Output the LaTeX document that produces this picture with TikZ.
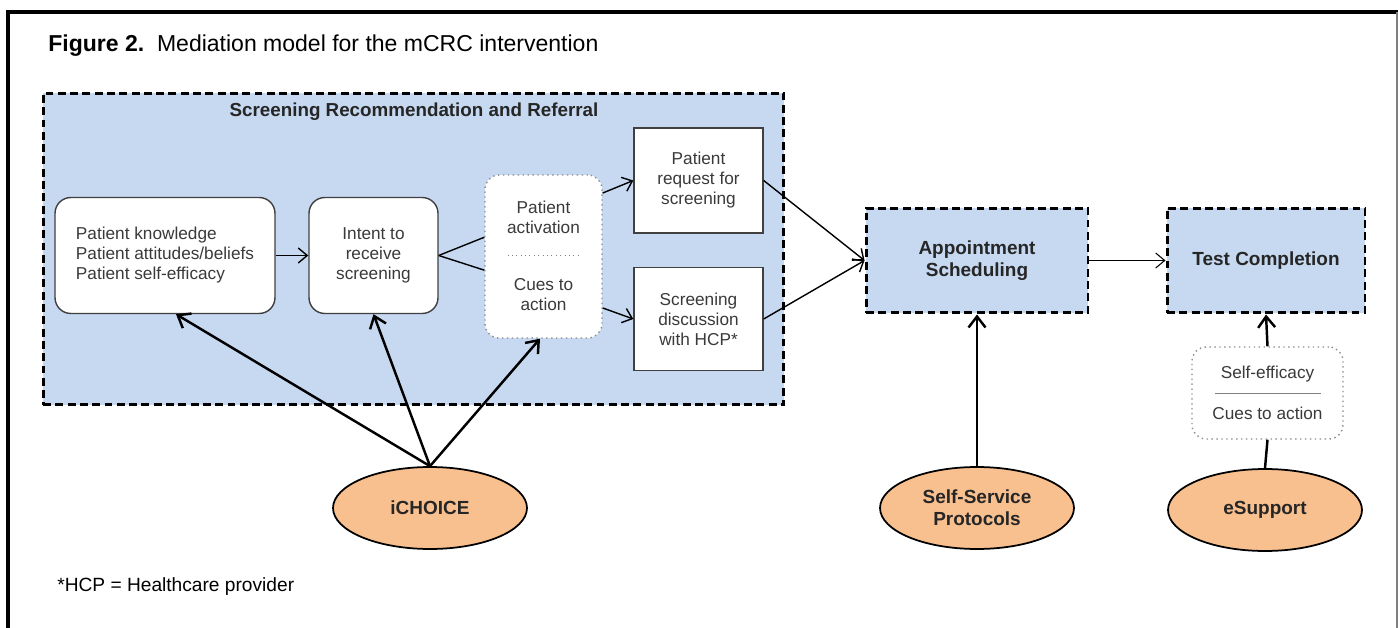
\documentclass[tikz,border=0pt]{standalone}
\usepackage{fontspec}
\setmainfont{Liberation Sans}
\usetikzlibrary{arrows.meta,positioning,backgrounds,calc,shapes.geometric}
\definecolor{grpblue}{HTML}{C6D9F1}
\definecolor{ovalorange}{HTML}{F9C08F}
\definecolor{txtgray}{HTML}{3A3A3A}
\tikzset{
  box/.style={draw=black!75, line width=0.8pt, fill=white, align=center, text=txtgray, inner sep=2pt, font=\fontsize{9.8}{11.4}\selectfont},
  rbox/.style={box, rounded corners=9pt},
  dbox/.style={box, draw=black!45, dotted, rounded corners=8pt},
  stage/.style={draw, line width=1.7pt, dash pattern=on 4.5pt off 2.5pt, fill=grpblue, align=center, text=black!85, font=\fontsize{10.8}{12.5}\selectfont\bfseries},
  src/.style={ellipse, draw, line width=1pt, fill=ovalorange, align=center, inner sep=0pt, minimum width=3.88cm, minimum height=1.64cm, text=black!85, font=\fontsize{10.8}{12.5}\selectfont\bfseries},
  txt/.style={align=center, text=txtgray, inner sep=0pt, font=\fontsize{9.8}{11.4}\selectfont},
  arr/.style={-{Straight Barb[length=1.8mm, width=3mm]}, line width=0.8pt},
  thk/.style={-{Straight Barb[length=2.2mm, width=3.4mm]}, line width=1.4pt},
  lnk/.style={line width=0.8pt},
  sep/.style={draw=black!50, line width=0.5pt},
  glbl/.style={font=\fontsize{10.7}{12}\selectfont\bfseries, text=black!85}}

\begin{document}
\begin{tikzpicture}[x=0.02cm, y=-0.02cm]
  \useasboundingbox (0,0) rectangle (1399,628);
  % frame and caption
  \draw[line width=2pt] (8,628) -- (8,12) -- (1398,12);
  \draw[black!50, line width=0.8pt] (1397,12) -- (1397,628);
  \node[anchor=base west, inner sep=0pt, font=\fontsize{13.1}{15}\selectfont] (title) at (48,52) {\textbf{Figure 2.}\ \ Mediation model for the mCRC intervention};
  \node[anchor=base west, inner sep=0pt, font=\fontsize{10.9}{13}\selectfont] (note) at (57,591) {*HCP = Healthcare provider};
  % screening recommendation and referral
  \node[stage, minimum width=14.82cm, minimum height=6.24cm] (grp) at (413.5,249) {};
  \node[glbl] (grplbl) at (414,112) {Screening Recommendation and Referral};
  \node[rbox, minimum width=4.4cm, minimum height=2.32cm] (pk) at (165,255.5) {};
  \node[txt, align=left] (pktxt) at (pk.center) {Patient knowledge\\Patient attitudes/beliefs\\Patient self-efficacy};
  \node[rbox, minimum width=2.58cm, minimum height=2.32cm] (intent) at (373.5,255.5) {Intent to\\receive\\screening};
  \node[dbox, minimum width=2.34cm, minimum height=3.26cm] (act) at (543.5,256.5) {};
  \node[txt] (acttop) at (543.5,217) {Patient\\activation};
  \node[txt] (actbot) at (543.5,295) {Cues to\\action};
  \draw[sep, dotted] ($(act.center)+(-36,-1.5)$) -- ++(72,0);
  \node[box, minimum width=2.58cm, minimum height=2.1cm] (req) at (698.5,180.5) {Patient\\request for\\screening};
  \node[box, minimum width=2.58cm, minimum height=2.06cm] (disc) at (698.5,319) {Screening\\discussion\\with HCP*};
  \draw[arr] (pk) -- (intent);
  \draw[lnk] (intent.east) -- (act.162);
  \draw[lnk] (intent.east) -- (act.193);
  \draw[arr] (act.47) -- (req.west);
  \draw[arr] (act.-41) -- (disc.west);
  % scheduling and completion
  \node[stage, minimum width=4.44cm, minimum height=2.1cm] (appt) at (977,260.5) {Appointment\\Scheduling};
  \node[stage, minimum width=3.96cm, minimum height=2.1cm] (test) at (1266,260.5) {Test Completion};
  \draw[arr] (req.east) -- (appt.west);
  \draw[arr] (disc.east) -- (appt.west);
  \draw[arr, line width=0.6pt] (appt) -- (test);
  \node[dbox, minimum width=3.02cm, minimum height=1.84cm] (selfeff) at (1267.5,393) {};
  \node[txt] (seftop) at (1267.5,374) {Self-efficacy};
  \node[txt] (sefbot) at (1267.5,413) {Cues to action};
  \draw[sep] ($(selfeff.center)+(-53,0)$) -- ++(106,0);
  % intervention components
  \node[src] (ichoice) at (430,508) {iCHOICE};
  \node[src] (ssp) at (977,508) {Self-Service\\Protocols};
  \node[src] (esup) at (1265,510) {eSupport};
  \draw[thk] (ichoice.north) -- ([xshift=0.22cm]pk.south);
  \draw[thk] (ichoice.north) -- (intent.south);
  \draw[thk] (ichoice.north) -- ([xshift=-0.07cm]act.south);
  \draw[thk] (ssp.north) -- (appt.south);
  \draw[lnk, line width=1.4pt] (esup.north) -- (selfeff.south);
  \draw[thk] (selfeff.north) -- (test.south);
\end{tikzpicture}
\end{document}
